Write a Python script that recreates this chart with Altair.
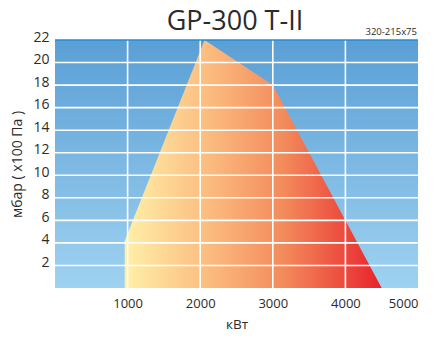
import altair as alt
import pandas as pd

# Data
kw = [960, 2060, 3000, 4500]
mbar = [4.2, 22, 18, 0]
x_ticks = [1000, 2000, 3000, 4000, 5000]
y_ticks = [2, 4, 6, 8, 10, 12, 14, 16, 18, 20, 22]
x_grid = [1000, 2000, 3000, 4000]
y_grid = [2, 4, 6, 8, 10, 12, 14, 16, 18, 20]
top_line = [22]
title_text = "GP-300 T-II"
model_text = "320-215x75"

FONT = "Open Sans"
TXT = "#2b2b2b"

bg_df = pd.DataFrame({"x": [0], "x2": [5000], "y": [0], "y2": [22]})
area_df = pd.DataFrame({"kw": kw, "mbar": mbar})
xg_df = pd.DataFrame({"v": x_grid})
yg_df = pd.DataFrame({"v": y_grid})
top_df = pd.DataFrame({"v": top_line})
lab_df = pd.DataFrame({"t": [model_text]})
title_df = pd.DataFrame({"t": [title_text]})

xscale = alt.Scale(domain=[0, 5000], nice=False)
yscale = alt.Scale(domain=[0, 22], nice=False)

x_axis = alt.Axis(
    values=x_ticks, title="кВт", grid=False, ticks=False, domain=False,
    labelPadding=9, titlePadding=7, format="d", labelFontSize=13, titleFontSize=13.5,
    labelOverlap=False,
)
y_axis = alt.Axis(
    values=y_ticks, title="мбар ( x100 Па )", grid=False, ticks=False, domain=False,
    labelPadding=6, labelOffset=-3, titlePadding=8, labelFontSize=14, titleFontSize=14,
    labelOverlap=False,
)

bg = alt.Chart(bg_df).mark_rect(
    color=alt.Gradient(
        gradient="linear",
        stops=[alt.GradientStop(color="#5a9fd5", offset=0),
               alt.GradientStop(color="#9fd2f0", offset=1)],
        x1=0, x2=0, y1=0, y2=1,
    )
).encode(
    x=alt.X("x:Q", scale=xscale, axis=x_axis),
    x2="x2:Q",
    y=alt.Y("y:Q", scale=yscale, axis=y_axis),
    y2="y2:Q",
)

area = alt.Chart(area_df).mark_area(
    color=alt.Gradient(
        gradient="linear",
        stops=[alt.GradientStop(color="#fff0a8", offset=0),
               alt.GradientStop(color="#fbbd80", offset=0.32),
               alt.GradientStop(color="#f38a5b", offset=0.62),
               alt.GradientStop(color="#e8232c", offset=1)],
        x1=0, x2=1, y1=0, y2=0,
    )
).encode(
    x=alt.X("kw:Q", scale=xscale, axis=x_axis),
    y=alt.Y("mbar:Q", scale=yscale, axis=y_axis),
)

xgrid = alt.Chart(xg_df).mark_rule(color="white", strokeWidth=1.6).encode(
    x=alt.X("v:Q", scale=xscale, axis=x_axis)
)
ygrid = alt.Chart(yg_df).mark_rule(color="white", strokeWidth=1.6).encode(
    y=alt.Y("v:Q", scale=yscale, axis=y_axis)
)
topline = alt.Chart(top_df).mark_rule(color="#1f8fd6", strokeWidth=1.6).encode(
    y=alt.Y("v:Q", scale=yscale, axis=y_axis)
)

lab = alt.Chart(lab_df).mark_text(
    align="right", baseline="alphabetic", fontSize=9.5, font=FONT, color=TXT
).encode(x=alt.value(362), y=alt.value(-5), text="t:N")

ttl = alt.Chart(title_df).mark_text(
    align="center", baseline="alphabetic", fontSize=27, font=FONT, color=TXT
).encode(x=alt.value(180), y=alt.value(-10), text="t:N")

chart = alt.layer(bg, area, xgrid, ygrid, topline, lab, ttl).properties(
    width=363, height=248,
    autosize=alt.AutoSizeParams(type="none"),
    padding={"left": 47, "top": 32, "right": 9, "bottom": 50},
).configure_axis(
    labelFont=FONT, titleFont=FONT, labelOverlap=False,
    labelColor=TXT, titleColor=TXT, titleFontWeight="normal",
).configure_view(stroke=None)

chart.save("out.html", embed_options={"renderer": "svg", "actions": False})
